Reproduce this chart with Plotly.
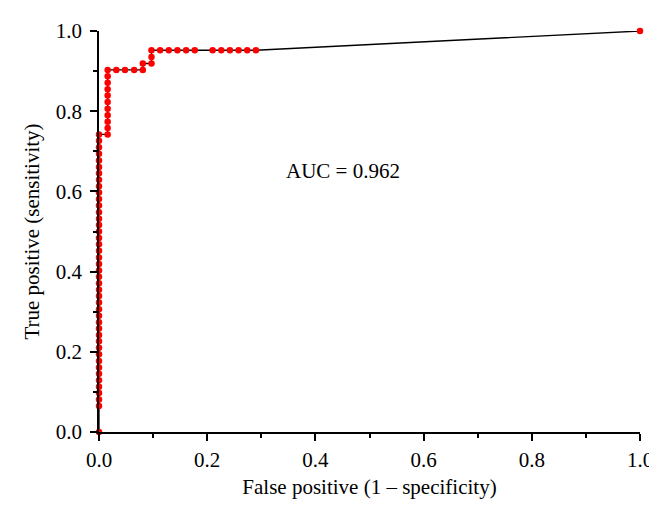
import plotly.graph_objects as go

# ROC curve points
fpr_col0 = [0.0] * 44
tpr_col0 = [0.0, 0.065, 0.081, 0.097, 0.113, 0.129, 0.145, 0.161, 0.177, 0.194,
            0.210, 0.226, 0.242, 0.258, 0.274, 0.290, 0.306, 0.323, 0.339, 0.355,
            0.371, 0.387, 0.403, 0.419, 0.435, 0.452, 0.468, 0.484, 0.500, 0.516,
            0.532, 0.548, 0.565, 0.581, 0.597, 0.613, 0.629, 0.645, 0.661, 0.677,
            0.694, 0.710, 0.726, 0.742]

fpr_col1 = [0.016] * 11
tpr_col1 = [0.742, 0.758, 0.774, 0.790, 0.806, 0.823, 0.839, 0.855, 0.871, 0.887, 0.903]

fpr_step = [0.032, 0.048, 0.065, 0.081, 0.081, 0.097, 0.097, 0.097]
tpr_step = [0.903, 0.903, 0.903, 0.903, 0.919, 0.919, 0.935, 0.952]

fpr_top = [0.113, 0.129, 0.145, 0.161, 0.177, 0.210, 0.226, 0.242, 0.258, 0.274, 0.290, 1.0]
tpr_top = [0.952, 0.952, 0.952, 0.952, 0.952, 0.952, 0.952, 0.952, 0.952, 0.952, 0.952, 1.0]

fpr = fpr_col0 + fpr_col1 + fpr_step + fpr_top
tpr = tpr_col0 + tpr_col1 + tpr_step + tpr_top

auc_label = "AUC = 0.962"
tick_vals = [0.0, 0.2, 0.4, 0.6, 0.8, 1.0]
tick_text = ["0.0", "0.2", "0.4", "0.6", "0.8", "1.0"]

FONT = "Liberation Serif, Times New Roman, serif"
FSIZE = 21

fig = go.Figure()
fig.add_trace(go.Scatter(
    x=fpr,
    y=tpr,
    mode="lines+markers",
    line={"color": "black", "width": 1.3},
    marker={"color": "#ff0000", "size": 6.5},
    cliponaxis=False,
    showlegend=False,
))

fig.add_annotation(
    x=0.451, y=0.652, xref="x", yref="y",
    text=auc_label, showarrow=False,
    font={"family": FONT, "size": FSIZE, "color": "black"},
)

axis_common = dict(
    range=[0, 1],
    tickvals=tick_vals,
    ticktext=tick_text,
    ticks="outside",
    ticklen=7,
    tickwidth=1.5,
    tickcolor="black",
    showline=True,
    linecolor="black",
    linewidth=1.8,
    showgrid=False,
    zeroline=False,
    tickfont={"family": FONT, "size": FSIZE, "color": "black"},
    minor={"dtick": 0.1, "ticks": "outside", "ticklen": 4, "tickcolor": "black",
           "tickwidth": 1.5, "showgrid": False},
)

fig.update_xaxes(
    **axis_common,
    ticklabelstandoff=1,
    title={"text": "False positive (1 \u2013 specificity)", "standoff": 8,
           "font": {"family": FONT, "size": FSIZE, "color": "black"}},
)
fig.update_yaxes(
    **axis_common,
    ticklabelstandoff=4,
    title={"text": "True positive (sensitivity)", "standoff": 10,
           "font": {"family": FONT, "size": FSIZE, "color": "black"}},
)

fig.update_layout(
    width=657,
    height=508,
    margin={"l": 91, "r": 25, "t": 23, "b": 84},
    plot_bgcolor="white",
    paper_bgcolor="white",
    font={"family": FONT, "size": FSIZE, "color": "black"},
)

fig.write_html("out.html")
